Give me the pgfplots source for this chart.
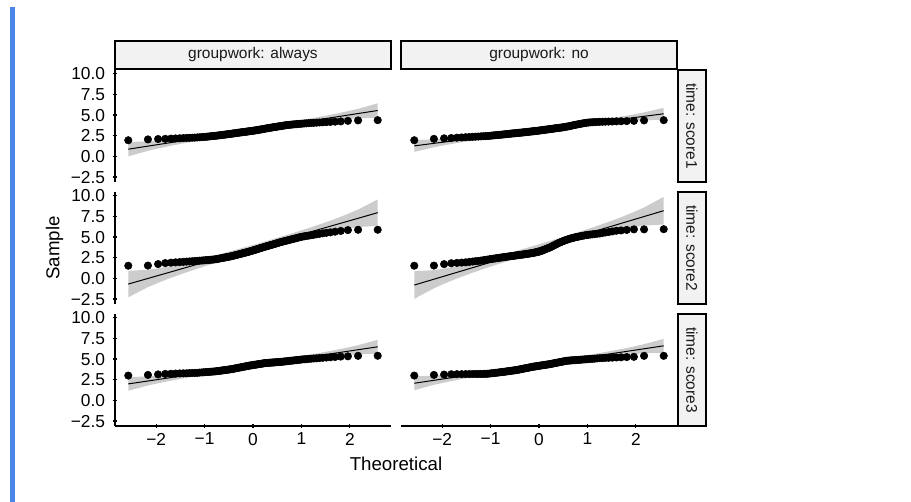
\documentclass[border=0pt]{standalone}
\usepackage{fontspec}
\setmainfont{Liberation Sans}
\usepackage{pgfplots}
\usepackage{pgfplotstable}
\pgfplotsset{compat=1.18}
\usepgfplotslibrary{fillbetween}

\definecolor{bandgray}{RGB}{204,204,204}
\definecolor{stripgray}{RGB}{242,242,242}
\definecolor{barblue}{RGB}{74,134,232}

% sample quantiles, one column per panel (a,b: score1; c,d: score2; e,f: score3)
\pgfplotstableread{
x a b c d e f
-2.576 1.95 1.95 1.53 1.53 3.00 3.00
-2.170 2.05 2.12 1.55 1.55 3.08 3.08
-1.960 2.10 2.18 1.73 1.72 3.14 3.12
-1.812 2.12 2.22 1.85 1.83 3.20 3.16
-1.695 2.15 2.26 1.90 1.87 3.22 3.17
-1.598 2.17 2.29 1.94 1.91 3.24 3.17
-1.514 2.19 2.32 1.97 1.94 3.26 3.18
-1.440 2.21 2.34 2.00 1.99 3.27 3.18
-1.372 2.23 2.36 2.03 2.04 3.28 3.19
-1.311 2.24 2.38 2.05 2.08 3.30 3.19
-1.254 2.26 2.40 2.07 2.11 3.31 3.19
-1.200 2.27 2.42 2.10 2.15 3.32 3.20
-1.150 2.29 2.44 2.12 2.20 3.33 3.20
-1.103 2.31 2.44 2.14 2.24 3.36 3.21
-1.058 2.33 2.47 2.16 2.28 3.38 3.22
-1.015 2.35 2.49 2.18 2.32 3.40 3.25
-0.974 2.37 2.52 2.20 2.35 3.42 3.28
-0.935 2.39 2.54 2.22 2.39 3.44 3.30
-0.897 2.42 2.56 2.24 2.42 3.45 3.33
-0.860 2.44 2.58 2.26 2.46 3.47 3.35
-0.824 2.46 2.60 2.28 2.49 3.49 3.38
-0.789 2.48 2.62 2.30 2.52 3.50 3.41
-0.755 2.50 2.64 2.33 2.54 3.53 3.43
-0.722 2.53 2.66 2.37 2.57 3.55 3.46
-0.690 2.55 2.68 2.40 2.60 3.58 3.48
-0.659 2.57 2.70 2.44 2.62 3.60 3.51
-0.628 2.60 2.72 2.47 2.65 3.63 3.53
-0.598 2.62 2.74 2.51 2.67 3.65 3.56
-0.568 2.64 2.76 2.54 2.70 3.68 3.58
-0.539 2.67 2.78 2.58 2.72 3.70 3.61
-0.510 2.69 2.79 2.61 2.74 3.72 3.63
-0.482 2.71 2.81 2.64 2.77 3.75 3.65
-0.454 2.73 2.83 2.67 2.79 3.77 3.68
-0.426 2.76 2.84 2.71 2.82 3.79 3.71
-0.399 2.78 2.86 2.75 2.84 3.83 3.74
-0.372 2.80 2.87 2.79 2.86 3.86 3.78
-0.345 2.82 2.89 2.83 2.88 3.89 3.81
-0.319 2.85 2.91 2.87 2.90 3.92 3.84
-0.292 2.87 2.92 2.91 2.92 3.95 3.87
-0.266 2.89 2.94 2.95 2.95 3.98 3.90
-0.240 2.91 2.96 2.99 2.97 4.01 3.93
-0.215 2.93 2.97 3.03 2.99 4.04 3.96
-0.189 2.95 2.99 3.07 3.01 4.07 3.99
-0.164 2.97 3.01 3.11 3.04 4.10 4.02
-0.138 2.99 3.03 3.15 3.06 4.13 4.05
-0.113 3.01 3.04 3.18 3.09 4.16 4.08
-0.088 3.03 3.06 3.22 3.12 4.19 4.10
-0.063 3.05 3.08 3.27 3.15 4.21 4.12
-0.038 3.07 3.09 3.31 3.18 4.24 4.15
-0.013 3.09 3.11 3.36 3.22 4.26 4.17
0.013 3.11 3.13 3.40 3.25 4.29 4.19
0.038 3.13 3.15 3.45 3.30 4.31 4.22
0.063 3.16 3.17 3.49 3.36 4.33 4.24
0.088 3.18 3.19 3.54 3.42 4.36 4.26
0.113 3.21 3.21 3.58 3.48 4.38 4.28
0.138 3.23 3.23 3.63 3.54 4.40 4.31
0.164 3.26 3.25 3.68 3.60 4.43 4.33
0.189 3.28 3.27 3.72 3.66 4.45 4.35
0.215 3.31 3.29 3.77 3.72 4.48 4.38
0.240 3.34 3.31 3.81 3.78 4.50 4.40
0.266 3.37 3.33 3.86 3.86 4.52 4.43
0.292 3.40 3.35 3.90 3.94 4.53 4.47
0.319 3.42 3.38 3.95 4.02 4.54 4.50
0.345 3.45 3.40 3.99 4.10 4.55 4.53
0.372 3.48 3.42 4.04 4.18 4.57 4.56
0.399 3.50 3.44 4.08 4.26 4.58 4.59
0.426 3.53 3.46 4.13 4.33 4.59 4.62
0.454 3.56 3.48 4.18 4.40 4.60 4.65
0.482 3.58 3.51 4.23 4.47 4.62 4.69
0.510 3.61 3.53 4.28 4.54 4.63 4.72
0.539 3.64 3.56 4.33 4.60 4.64 4.75
0.568 3.66 3.59 4.38 4.66 4.66 4.79
0.598 3.69 3.62 4.43 4.72 4.67 4.80
0.628 3.72 3.66 4.47 4.78 4.69 4.82
0.659 3.75 3.70 4.52 4.83 4.71 4.83
0.690 3.78 3.74 4.56 4.88 4.73 4.85
0.722 3.80 3.78 4.61 4.93 4.75 4.86
0.755 3.82 3.82 4.66 4.98 4.78 4.87
0.789 3.84 3.86 4.71 5.02 4.80 4.89
0.824 3.86 3.90 4.76 5.06 4.82 4.90
0.860 3.88 3.94 4.82 5.11 4.85 4.92
0.897 3.90 3.98 4.87 5.15 4.87 4.94
0.935 3.92 4.02 4.93 5.19 4.90 4.96
0.974 3.94 4.06 4.99 5.23 4.92 4.97
1.015 3.96 4.09 5.04 5.27 4.95 4.99
1.058 3.98 4.11 5.09 5.30 4.97 5.01
1.103 4.00 4.13 5.13 5.33 4.99 5.03
1.150 4.02 4.15 5.17 5.36 5.02 5.05
1.200 4.04 4.16 5.22 5.40 5.04 5.08
1.254 4.06 4.18 5.27 5.43 5.07 5.10
1.311 4.08 4.19 5.33 5.49 5.09 5.12
1.372 4.10 4.20 5.39 5.55 5.12 5.14
1.440 4.12 4.21 5.45 5.61 5.15 5.15
1.514 4.14 4.22 5.51 5.68 5.18 5.17
1.598 4.17 4.24 5.57 5.76 5.21 5.19
1.695 4.20 4.25 5.65 5.80 5.25 5.21
1.812 4.23 4.27 5.74 5.86 5.30 5.24
1.960 4.30 4.30 5.84 5.93 5.33 5.27
2.170 4.35 4.35 5.88 5.93 5.39 5.39
2.576 4.38 4.38 5.88 5.95 5.40 5.39
}\qq

% confidence band around the reference line, lower (L) and upper (U) edge
\pgfplotstableread{
x aL aU bL bU cL cU dL dU eL eU fL fU
-2.576 0.00 1.74 0.55 1.99 -2.29 0.91 -2.48 0.86 1.16 2.82 1.23 2.91
-2.170 0.67 1.81 1.10 2.05 -1.06 1.05 -1.20 1.00 1.80 2.89 1.88 2.98
-1.960 0.95 1.91 1.34 2.13 -0.54 1.22 -0.65 1.18 2.07 2.98 2.15 3.07
-1.695 1.28 2.06 1.61 2.26 0.07 1.51 -0.02 1.48 2.38 3.13 2.47 3.22
-1.440 1.57 2.23 1.85 2.40 0.60 1.83 0.54 1.81 2.66 3.30 2.75 3.39
-1.150 1.88 2.45 2.11 2.58 1.17 2.23 1.13 2.23 2.96 3.51 3.05 3.60
-0.824 2.21 2.72 2.38 2.80 1.78 2.72 1.76 2.74 3.27 3.76 3.37 3.86
-0.510 2.51 2.98 2.63 3.02 2.34 3.21 2.35 3.25 3.57 4.02 3.66 4.11
0.000 2.99 3.43 3.03 3.40 3.22 4.04 3.26 4.12 4.02 4.45 4.12 4.55
0.510 3.44 3.91 3.40 3.79 4.05 4.92 4.13 5.03 4.46 4.91 4.56 5.01
0.824 3.71 4.21 3.62 4.04 4.54 5.48 4.64 5.62 4.71 5.20 4.81 5.30
1.150 3.97 4.54 3.84 4.31 5.03 6.09 5.15 6.25 4.96 5.51 5.07 5.62
1.440 4.19 4.85 4.02 4.57 5.43 6.66 5.57 6.84 5.17 5.81 5.28 5.92
1.695 4.36 5.14 4.16 4.81 5.75 7.19 5.90 7.40 5.34 6.09 5.45 6.20
1.960 4.51 5.47 4.29 5.08 6.04 7.80 6.20 8.03 5.49 6.40 5.60 6.52
2.170 4.61 5.75 4.37 5.32 6.21 8.32 6.38 8.58 5.58 6.68 5.69 6.80
2.576 4.68 6.42 4.43 5.87 6.35 9.55 6.52 9.86 5.65 7.32 5.76 7.44
}\band

\pgfplotsset{
  panel/.style={
    scale only axis, width=207pt, height=84pt, anchor=north west,
    xmin=-2.85, xmax=2.85, ymin=-3.1, ymax=10.45,
    tick style={line width=0.9pt, black},
    major tick length=3.4pt, tick align=outside,
    xtick={-2,-1,0,1,2}, xticklabels={−2,−1,0,1,2},
    ytick={-2.5,0,2.5,5,7.5,10}, yticklabels={−2.5,0.0,2.5,5.0,7.5,10.0},
    ticklabel style={font=\fontsize{13}{13}\selectfont},
    yticklabel style={xshift=-2.2pt},
  },
  plainlines/.style={axis line style={line width=0.9pt, -}},
  leftcol/.style={panel, axis y line=left},
  rightcol/.style={panel, axis y line=none, ytick=\empty},
  toprow/.style={axis x line=none, xtick=\empty, plainlines},
  botrow/.style={axis x line=bottom, plainlines},
}

\newcommand\qqpanel[2]{%
  \addplot[name path=lo, draw=none] table[x=x, y=#1L]{\band};
  \addplot[name path=hi, draw=none] table[x=x, y=#1U]{\band};
  \addplot[fill=bandgray, draw=none] fill between[of=lo and hi];
  \addplot[black, line width=0.75pt] coordinates {#2};
  \addplot[only marks, mark=*, mark size=2.8pt, black] table[x=x, y=#1]{\qq};
}

\begin{document}
\begin{tikzpicture}
\path (0,0) rectangle (683.25pt,-376.5pt);
\fill[barblue] (7.5pt,-5.25pt) rectangle (10.9pt,-376.5pt);

\begin{axis}[leftcol, toprow, at={(86.25pt,-52.5pt)}]
\qqpanel{a}{(-2.576,0.87) (2.576,5.55)}
\end{axis}
\begin{axis}[rightcol, toprow, at={(300.75pt,-52.5pt)}]
\qqpanel{b}{(-2.576,1.27) (2.576,5.15)}
\end{axis}
\begin{axis}[leftcol, toprow, at={(86.25pt,-144pt)}]
\qqpanel{c}{(-2.576,-0.69) (2.576,7.95)}
\end{axis}
\begin{axis}[rightcol, toprow, at={(300.75pt,-144pt)}]
\qqpanel{d}{(-2.576,-0.81) (2.576,8.19)}
\end{axis}
\begin{axis}[leftcol, botrow, at={(86.25pt,-235.5pt)}]
\qqpanel{e}{(-2.576,1.99) (2.576,6.48)}
\end{axis}
\begin{axis}[rightcol, botrow, at={(300.75pt,-235.5pt)}]
\qqpanel{f}{(-2.576,2.07) (2.576,6.60)}
\end{axis}

% facet strips
\begin{scope}[line width=1.3pt]
\draw[fill=stripgray] (86.25pt,-30.75pt) rectangle (293.25pt,-51.5pt);
\draw[fill=stripgray] (300.75pt,-30.75pt) rectangle (507.75pt,-51.5pt);
\draw[fill=stripgray] (508.5pt,-52.5pt) rectangle (529.5pt,-136.5pt);
\draw[fill=stripgray] (508.5pt,-144pt) rectangle (529.5pt,-228pt);
\draw[fill=stripgray] (508.5pt,-235.5pt) rectangle (529.5pt,-319.5pt);
\end{scope}
\begin{scope}[font=\fontsize{11.6}{11.6}\selectfont, text=black!90]
\node at (189.75pt,-41.25pt) {groupwork: always};
\node at (404.25pt,-41.25pt) {groupwork: no};
\node[rotate=-90] at (519pt,-94.5pt) {time: score1};
\node[rotate=-90] at (519pt,-186pt) {time: score2};
\node[rotate=-90] at (519pt,-277.5pt) {time: score3};
\end{scope}

% axis titles
\node[rotate=90, font=\fontsize{14}{14}\selectfont] at (40.9pt,-186pt) {Sample};
\node[anchor=base, font=\fontsize{14}{14}\selectfont] at (297pt,-352.5pt) {Theoretical};
\end{tikzpicture}
\end{document}
